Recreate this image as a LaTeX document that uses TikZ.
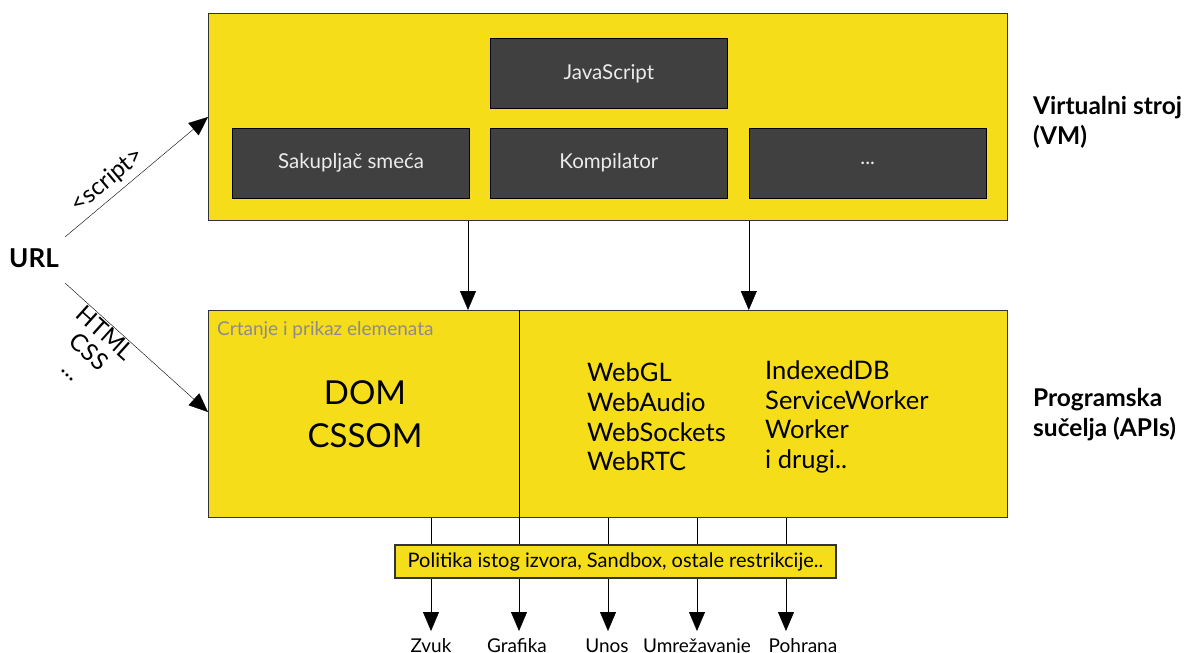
\documentclass[tikz,border=0pt]{standalone}
\usepackage{fontspec}
\setmainfont{Lato}
\usetikzlibrary{
  arrows.meta,
  positioning,  % Function "of" (e.g. [right=of x])
}
\definecolor{vmyellow}{RGB}{245,221,26}
\definecolor{vmdark}{RGB}{64,64,64}
\newcommand{\fs}[1]{\fontsize{#1}{1.25\dimexpr #1pt\relax}\selectfont}
\tikzset{
  x=1pt,
  y=-1pt,
  line width=1.3pt,
  >={Triangle[width=16pt,length=19pt]},
  layer box/.style={
    draw=black!80,
    line width=1.4pt,
    fill=vmyellow,
    minimum width=799pt,
    minimum height=207pt,
    inner sep=0pt,
    anchor=north west
  },
  part box/.style={
    draw=black,
    line width=0.8pt,
    fill=vmdark,
    text=black!8,
    minimum width=237pt,
    minimum height=70pt,
    inner sep=0pt,
    font=\fs{20.5}
  },
  policy box/.style={
    draw=black!80,
    line width=1.4pt,
    fill=vmyellow,
    minimum width=441pt,
    minimum height=33pt,
    inner sep=0pt,
    font=\fs{20}
  },
  side label/.style={
    anchor=west,
    align=left,
    inner sep=0pt,
    font=\fontsize{24.5}{30}\selectfont\bfseries
  },
  api list/.style={
    anchor=west,
    align=left,
    inner sep=0pt,
    font=\fontsize{25.5}{29.7}\selectfont
  },
  out label/.style={
    anchor=north,
    inner sep=0pt,
    text height=21pt,
    text depth=3pt,
    font=\fs{19}
  },
  flow label/.style={
    sloped,
    align=center,
    font=\fontsize{24}{25}\selectfont
  }
}

\begin{document}
\begin{tikzpicture}
\useasboundingbox (0,0) rectangle (1187,653);
% Virtual machine
\node[layer box] (vm) at (208,13) {};
\node[part box, anchor=north west] (js) at (490,38) {JavaScript};
\node[part box, below=19pt of js] (komp) {Kompilator};
\node[part box, left=20pt of komp] (gc) {Sakupljač smeća};
\node[part box, right=21pt of komp] (etc) {...};
\node[side label] (vmlabel) at (1033,122) {Virtualni stroj\\(VM)};

% Programming interfaces
\node[layer box] (api) at (208,310) {};
\node[anchor=west, inner sep=0pt, text=black!45, font=\fs{19}] (render)
  at (217,330) {Crtanje i prikaz elemenata};
\node[align=center, font=\fontsize{33}{43}\selectfont] (dom) at (365,414) {DOM\\CSSOM};
\node[api list] (webapis) at (587,417) {WebGL\\WebAudio\\WebSockets\\WebRTC};
\node[api list] (moreapis) at (765,417) {IndexedDB\\ServiceWorker\\Worker\\i drugi..};
\node[side label] (apilabel) at (1033,415) {Programska\\sučelja (APIs)};

\draw[->] ([xshift=260pt]vm.south west) -- ([xshift=260pt]api.north west);
\draw[->] (etc.west |- vm.south) -- (etc.west |- api.north);

% URL
\node[font=\fontsize{26}{30}\selectfont\bfseries] (url) at (34,258) {URL};
\coordinate (urlup) at (65,237);
\coordinate (urldown) at (65,283);
\draw[->] (urlup) -- (vm.north west |- 0,117)
  node[flow label, pos=0.37, above, inner sep=5pt, font=\fs{24}] {<script>};
\draw[->] (urldown) -- (api.north west |- 0,412)
  node[flow label, pos=0.33, below, inner sep=1pt] {HTML\\CSS\\...};

% Restrictions and outputs
\node[policy box] (policy) at (615.5,561.5) {Politika istog izvora, Sandbox, ostale restrikcije..};
\draw ([xshift=311pt]api.north west) coordinate (split) -- (split |- policy.north);
\foreach \px/\lx/\txt [count=\i] in {431/431/Zvuk, 519/517/Grafika, 608/607/Unos,
                                     697/697/Umrežavanje, 786/803/Pohrana}{
  \coordinate (col\i) at (\px,631);
  \node[out label] (out\i) at (\lx,631) {\txt};
  \draw (col\i |- api.south) -- (col\i |- policy.north);
  \draw[->] (col\i |- policy.south) -- (col\i |- out\i.north);
}
\end{tikzpicture}
\end{document}
